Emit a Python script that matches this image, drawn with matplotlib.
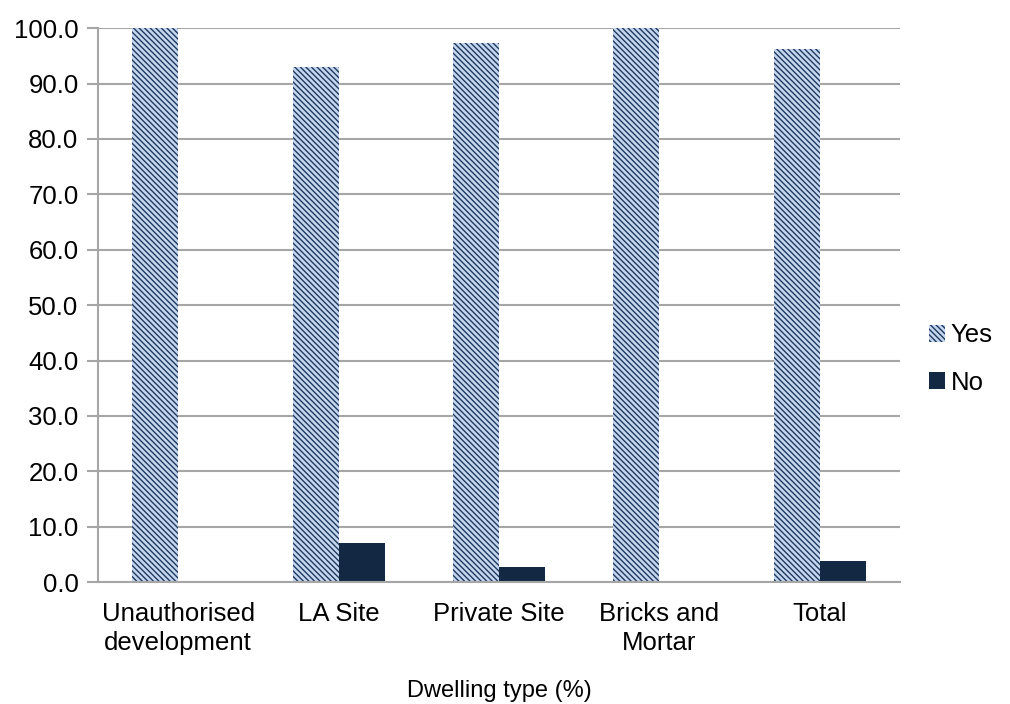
import matplotlib.pyplot as plt
import numpy as np

plt.rcParams['font.family'] = ['Liberation Sans', 'DejaVu Sans']
plt.rcParams['hatch.linewidth'] = 1.0

# Data
categories = ["Unauthorised\ndevelopment", "LA Site", "Private Site", "Bricks and\nMortar", "Total"]
yes_vals = [100.0, 93.0, 97.3, 100.0, 96.2]
no_vals = [0.0, 7.0, 2.7, 0.0, 3.8]

fig = plt.figure(figsize=(10.1, 7.04), dpi=100)
ax = fig.add_axes([0.097, 0.173, 0.794, 0.787])

x = np.arange(len(categories))
w = 0.287

ax.bar(x - w / 2, yes_vals, w, color="#c6d6ee", edgecolor="#1f3a60",
       linewidth=0, hatch="\\\\\\\\\\\\", label="Yes", zorder=2)
ax.bar(x + w / 2, no_vals, w, color="#132843", label="No", zorder=2)

ax.set_xlim(-0.5, len(categories) - 0.5)
ax.set_ylim(0, 100)
ax.set_yticks(np.arange(0, 101, 10))
ax.set_yticklabels([f"{v:.1f}" for v in np.arange(0, 101, 10)])
ax.set_xticks(x)
ax.set_xticklabels(categories, linespacing=1.3)

ax.yaxis.grid(True, color="#a6a6a6", linewidth=1.5)
ax.set_axisbelow(True)
for s in ["top", "right"]:
    ax.spines[s].set_visible(False)
for s in ["left", "bottom"]:
    ax.spines[s].set_color("#a6a6a6")
    ax.spines[s].set_linewidth(1.5)

ax.tick_params(axis="y", length=8, width=1.5, color="#a6a6a6", labelsize=18.5, pad=6)
ax.tick_params(axis="x", length=0, labelsize=18.5, pad=14)

ax.set_xlabel("Dwelling type (%)", fontsize=17, labelpad=18)

fig.legend(loc="center left", bbox_to_anchor=(0.897, 0.49), frameon=False,
           fontsize=18.5, handlelength=0.6, handleheight=0.6, handletextpad=0.25,
           labelspacing=0.9)

fig.savefig("out.png", dpi=100)
